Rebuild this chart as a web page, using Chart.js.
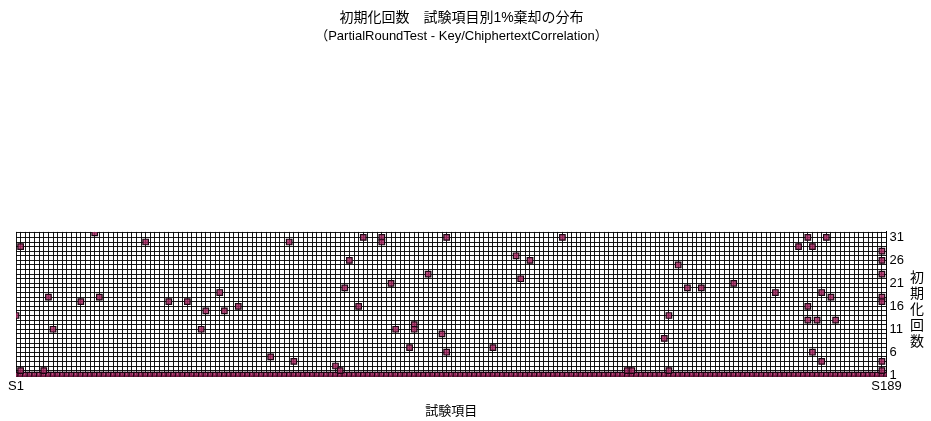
<!DOCTYPE html>
<html>
<head>
<meta charset="utf-8">
<title>初期化回数 試験項目別1%棄却の分布</title>
<script src="https://cdn.jsdelivr.net/npm/chart.js@4.4.0/dist/chart.umd.min.js"></script>
<style>
  body { margin: 0; background: #fff; }
</style>
</head>
<body>
<canvas id="mycanvas" width="931" height="421"></canvas>
<script>
// test items S1 .. S189
var itemCount = 189;
var items = [];
for (var i = 1; i <= itemCount; i++) {
	items.push('S' + i);
}

// every item sits on the first initialisation
var baseCounts = [
	1,1,1,1,1,1,1,1,1,1,1,1,1,1,1,1,1,1,1,1,1,1,1,1,1,1,1,
	1,1,1,1,1,1,1,1,1,1,1,1,1,1,1,1,1,1,1,1,1,1,1,1,1,1,1,
	1,1,1,1,1,1,1,1,1,1,1,1,1,1,1,1,1,1,1,1,1,1,1,1,1,1,1,
	1,1,1,1,1,1,1,1,1,1,1,1,1,1,1,1,1,1,1,1,1,1,1,1,1,1,1,
	1,1,1,1,1,1,1,1,1,1,1,1,1,1,1,1,1,1,1,1,1,1,1,1,1,1,1,
	1,1,1,1,1,1,1,1,1,1,1,1,1,1,1,1,1,1,1,1,1,1,1,1,1,1,1,
	1,1,1,1,1,1,1,1,1,1,1,1,1,1,1,1,1,1,1,1,1,1,1,1,1,1,1
];

// 1% rejections: item number and initialisation count
var hitItems = [1, 2, 2, 7, 8, 9, 15, 18, 19, 29, 34, 38, 41, 42, 45, 46, 49, 56, 60, 61,
	70, 71, 72, 73, 75, 76, 80, 80, 82, 83, 86, 87, 87, 90, 93, 94, 94, 104, 109, 110,
	112, 119, 133, 134, 141, 142, 142, 144, 146, 149, 156, 165, 170, 172, 172, 172, 173, 173, 174, 175,
	175, 176, 177, 178, 188, 188, 188, 188, 188, 188, 188];
var hitCounts = [14, 29, 2, 2, 18, 11, 17, 32, 18, 30, 17, 17, 11, 15, 19, 15, 16, 5, 30, 4,
	3, 2, 20, 26, 16, 31, 31, 30, 21, 11, 7, 12, 11, 23, 10, 31, 6, 7, 27, 22,
	26, 31, 2, 2, 9, 14, 2, 25, 20, 20, 21, 19, 29, 31, 16, 13, 29, 6, 13, 19,
	4, 31, 18, 13, 28, 26, 23, 18, 17, 4, 2];

// one grid line per initialisation, labels every fifth
var gridCounts = [1, 2, 3, 4, 5, 6, 7, 8, 9, 10, 11, 12, 13, 14, 15, 16,
	17, 18, 19, 20, 21, 22, 23, 24, 25, 26, 27, 28, 29, 30, 31, 32];
var yTicks = [1, 6, 11, 16, 21, 26, 31];
var titleText = '初期化回数　試験項目別1%棄却の分布';
var subtitleText = '（PartialRoundTest - Key/ChiphertextCorrelation）';
var xTitle = '試験項目';
var yTitle = '初期化回数';

var fontFamily = "'Liberation Sans', 'Noto Sans CJK JP', sans-serif";

var hits = [];
for (var k = 0; k < hitItems.length; k++) {
	hits.push({ x: 'S' + hitItems[k], y: hitCounts[k] });
}

// upright, stacked y axis title on the right
var sideTitle = {
	id: 'sideTitle',
	afterDraw: function(chart) {
		var ctx = chart.ctx;
		var area = chart.chartArea;
		var chars = Array.from(yTitle);
		var step = 16;
		var y0 = (area.top + area.bottom) / 2 - (chars.length - 1) * step / 2 + 4;
		ctx.save();
		ctx.font = "14px 'Noto Sans CJK JP'";
		ctx.fillStyle = '#000';
		ctx.textAlign = 'center';
		ctx.textBaseline = 'middle';
		chars.forEach(function(c, n) {
			ctx.fillText(c, 917, y0 + n * step);
		});
		ctx.restore();
	}
};

var markFill = 'rgba(165, 35, 95, 0.8)';
var markLine = '#1c0512';

var ctx = document.getElementById('mycanvas');
var chart = new Chart(ctx, {
	type: 'line',
	data: {
		labels: items,
		datasets: [
			{
				label: 'rejected',
				data: hits,
				showLine: false,
				pointStyle: 'rect',
				pointRadius: 3.9,
				pointBorderWidth: 1.2,
				pointBackgroundColor: markFill,
				pointBorderColor: markLine,
				clip: 0
			},
			{
				label: 'base',
				data: baseCounts,
				showLine: false,
				pointStyle: 'rect',
				pointRadius: 3.9,
				pointBorderWidth: 1.2,
				pointBackgroundColor: markFill,
				pointBorderColor: markLine,
				clip: 0
			}
		]
	},
	options: {
		responsive: false,
		animation: false,
		events: [],
		layout: { padding: { left: 16, right: 24, top: 0, bottom: 2 } },
		plugins: {
			legend: { display: false },
			tooltip: { enabled: false },
			title: {
				display: true,
				text: titleText,
				color: '#000',
				font: { family: fontFamily, size: 14, weight: 'normal' },
				padding: { top: 10, bottom: 2 }
			},
			subtitle: {
				display: true,
				text: subtitleText,
				color: '#000',
				font: { family: fontFamily, size: 13, weight: 'normal' },
				padding: { top: 0, bottom: 187.5 }
			}
		},
		scales: {
			x: {
				offset: false,
				grid: { color: 'rgba(0,0,0,0.9)', lineWidth: 1, drawTicks: false },
				border: { display: true, color: '#000', width: 1 },
				ticks: {
					autoSkip: false,
					maxRotation: 0,
					padding: 2,
					color: '#000',
					font: { family: fontFamily, size: 13 },
					callback: function(v, idx) {
						return (idx === 0 || idx === itemCount - 1) ? items[idx] : '';
					}
				},
				title: {
					display: true,
					text: xTitle,
					color: '#000',
					font: { family: fontFamily, size: 13 },
					padding: { top: 7, bottom: 0 }
				}
			},
			y: {
				position: 'right',
				min: 0.65,
				max: 32.2,
				afterBuildTicks: function(scale) {
					scale.ticks = gridCounts.map(function(v) { return { value: v }; });
				},
				grid: { color: 'rgba(0,0,0,0.9)', lineWidth: 1, drawTicks: false },
				border: { display: true, color: '#000', width: 1 },
				ticks: {
					autoSkip: false,
					padding: 3,
					color: '#000',
					font: { family: fontFamily, size: 13 },
					callback: function(v) {
						return yTicks.indexOf(v) >= 0 ? String(v) : '';
					}
				}
			}
		}
	},
	plugins: [sideTitle]
});
</script>
</body>
</html>
